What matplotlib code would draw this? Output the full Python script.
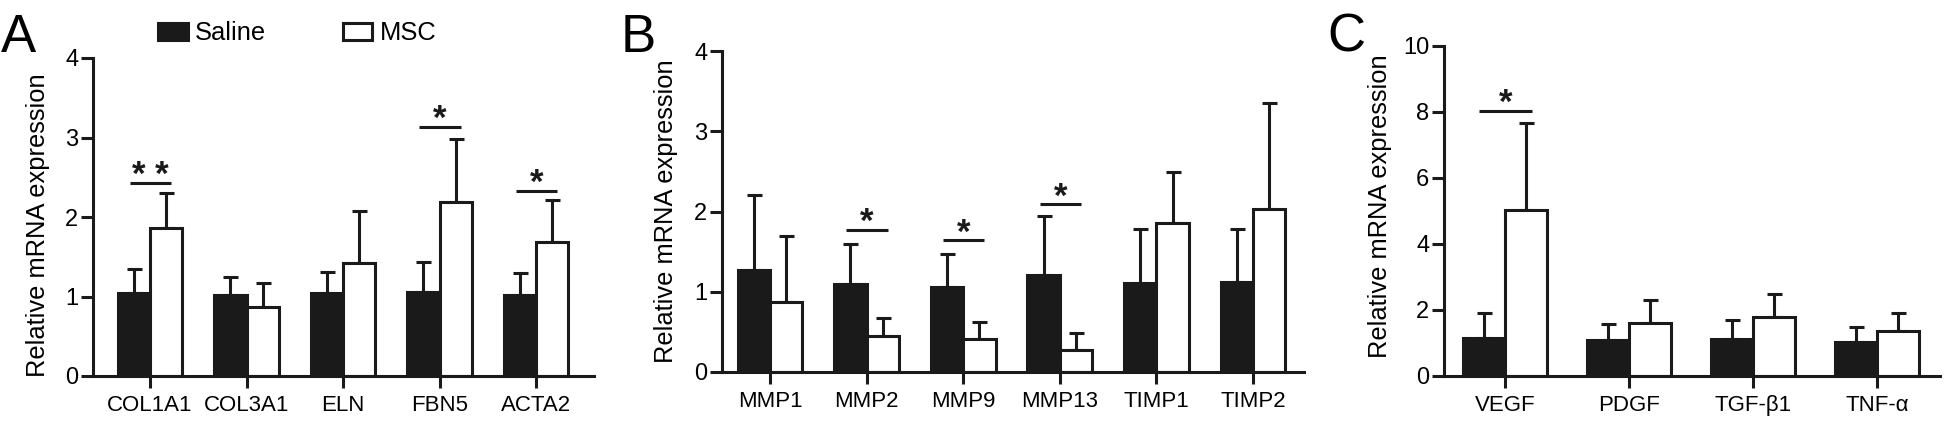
import numpy as np
import matplotlib
matplotlib.use("Agg")
import matplotlib.pyplot as plt

plt.rcParams['font.family'] = ['Liberation Sans', 'DejaVu Sans']

# --- данные ---
genes_a = ['COL1A1', 'COL3A1', 'ELN', 'FBN5', 'ACTA2']
saline_a = [1.04, 1.02, 1.04, 1.06, 1.02]
saline_a_err = [0.31, 0.225, 0.27, 0.37, 0.28]
msc_a = [1.86, 0.87, 1.42, 2.19, 1.68]
msc_a_err = [0.44, 0.30, 0.66, 0.79, 0.53]
sig_a_idx = [0, 3, 4]
sig_a_y = [2.43, 3.13, 2.33]
sig_a_lab = ['**', '*', '*']

genes_b = ['MMP1', 'MMP2', 'MMP9', 'MMP13', 'TIMP1', 'TIMP2']
saline_b = [1.27, 1.10, 1.06, 1.21, 1.11, 1.12]
saline_b_err = [0.94, 0.50, 0.41, 0.73, 0.67, 0.66]
msc_b = [0.87, 0.45, 0.41, 0.27, 1.86, 2.03]
msc_b_err = [0.82, 0.22, 0.21, 0.22, 0.63, 1.32]
sig_b_idx = [1, 2, 3]
sig_b_y = [1.77, 1.64, 2.09]
sig_b_lab = ['*', '*', '*']

genes_c = ['VEGF', 'PDGF', 'TGF-β1', 'TNF-α']
saline_c = [1.15, 1.09, 1.12, 1.03]
saline_c_err = [0.75, 0.49, 0.58, 0.46]
msc_c = [5.03, 1.61, 1.79, 1.36]
msc_c_err = [2.64, 0.69, 0.69, 0.55]
sig_c_idx = [0]
sig_c_y = [8.03]
sig_c_lab = ['*']

DARK = '#1a1a1a'
LW = 2.2

fig = plt.figure(figsize=(19.46, 4.34), dpi=100)
W, H = 1946, 434

def px_axes(left, right, top, bottom):
    return fig.add_axes([left / W, (H - bottom) / H, (right - left) / W, (bottom - top) / H])

ax_a = px_axes(93, 594, 58, 376)
ax_b = px_axes(722, 1304, 51, 372)
ax_c = px_axes(1444, 1940, 46, 376)


def draw_panel(ax, genes, sal, sal_err, msc, msc_err, ymax, yticks, xlim,
               sig_idx, sig_y, sig_lab, label_x, label_y):
    x = np.arange(len(genes))
    w = 0.335
    b1 = ax.bar(x - w / 2, sal, w, color=DARK, edgecolor=DARK, linewidth=LW,
                label='Saline', zorder=2)
    b2 = ax.bar(x + w / 2, msc, w, color='white', edgecolor=DARK, linewidth=LW,
                label='MSC', zorder=2)
    for xs, m, e in [(x - w / 2, sal, sal_err), (x + w / 2, msc, msc_err)]:
        ax.errorbar(xs, m, yerr=[np.zeros(len(m)), e], fmt='none', ecolor=DARK,
                    elinewidth=LW, capsize=5.4, capthick=LW, zorder=1)
    for i, yy, lab in zip(sig_idx, sig_y, sig_lab):
        ax.plot([i - 0.21, i + 0.22], [yy, yy], color=DARK, lw=LW,
                solid_capstyle='butt', clip_on=False)
        ax.annotate(' '.join(lab), (i + 0.005, yy), xytext=(0, -1.5),
                    textcoords='offset points', ha='center', va='baseline',
                    fontsize=25, fontweight='bold', color=DARK,
                    annotation_clip=False)

    ax.set_xlim(*xlim)
    ax.set_ylim(0, ymax)
    ax.set_yticks(yticks)
    ax.set_xticks(x)
    ax.set_xticklabels(genes, fontsize=16)
    ax.tick_params(axis='y', labelsize=17, length=9, width=LW, pad=1.5, color=DARK)
    ax.tick_params(axis='x', length=8.6, width=LW, pad=5, color=DARK)
    for s in ['top', 'right']:
        ax.spines[s].set_visible(False)
    for s in ['left', 'bottom']:
        ax.spines[s].set_linewidth(LW)
        ax.spines[s].set_color(DARK)
    ax.set_ylabel('Relative mRNA expression', fontsize=18.4)
    ax.yaxis.set_label_coords(label_x, label_y)
    return b1, b2


b1, b2 = draw_panel(ax_a, genes_a, saline_a, saline_a_err, msc_a, msc_a_err,
                    4, [0, 1, 2, 3, 4], (-0.591, 4.601),
                    sig_a_idx, sig_a_y, sig_a_lab, -0.086, 0.475)
draw_panel(ax_b, genes_b, saline_b, saline_b_err, msc_b, msc_b_err,
           4, [0, 1, 2, 3, 4], (-0.497, 5.528),
           sig_b_idx, sig_b_y, sig_b_lab, -0.0756, 0.5)
draw_panel(ax_c, genes_c, saline_c, saline_c_err, msc_c, msc_c_err,
           10, [0, 2, 4, 6, 8, 10], (-0.492, 3.508),
           sig_c_idx, sig_c_y, sig_c_lab, -0.105, 0.515)

# буквы панелей
for lab, xp in [('A', 1), ('B', 621), ('C', 1327)]:
    fig.text(xp / W, 1 - 52 / H, lab, fontsize=38, va='baseline', ha='left')

# легенда
fig.legend([b1, b2], ['Saline', 'MSC'], loc='center left',
           bbox_to_anchor=(158 / W, 1 - 33.5 / H), ncol=2, frameon=False,
           fontsize=18.4, handlelength=1.16, handleheight=0.68,
           handletextpad=0.28, columnspacing=3.0, borderpad=0, borderaxespad=0)

fig.savefig('out.png', dpi=100)
